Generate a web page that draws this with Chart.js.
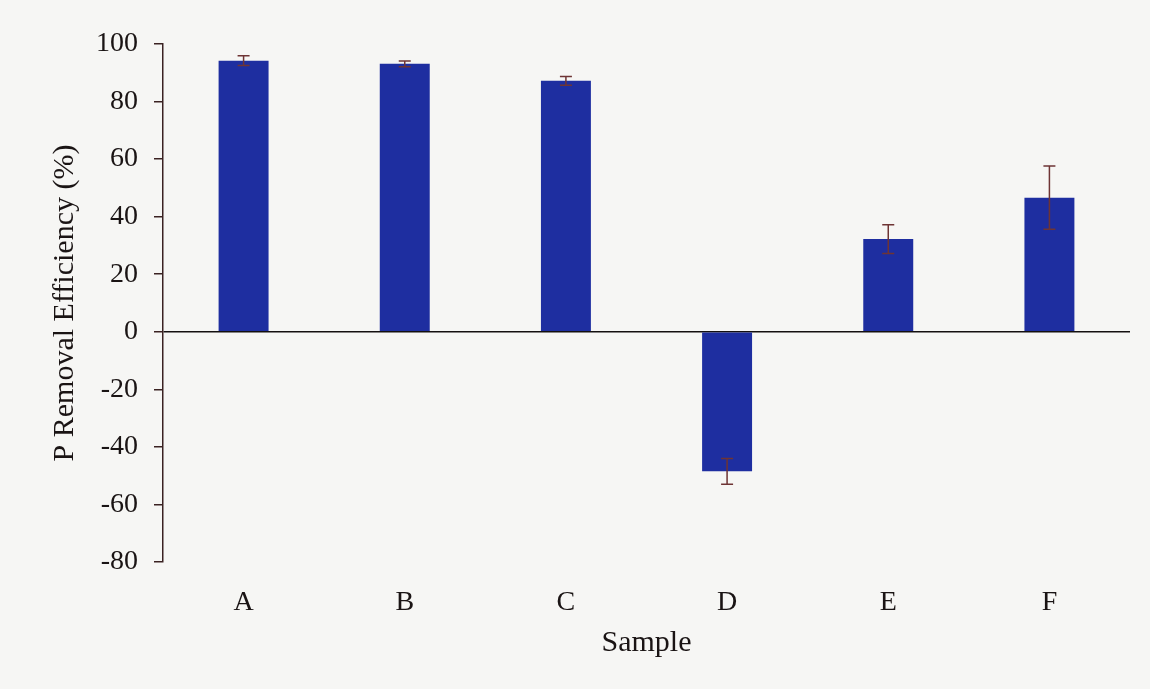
<!DOCTYPE html>
<html>
<head>
<meta charset="utf-8">
<script src="https://cdn.jsdelivr.net/npm/chart.js@4"></script>
<style>
  html, body { margin: 0; padding: 0; background: #f6f6f4; }
  #wrap { width: 1150px; height: 689px; }
</style>
</head>
<body>
<div id="wrap"><canvas id="chart" width="1150" height="689"></canvas></div>
<script>
// dados
const samples = ['A', 'B', 'C', 'D', 'E', 'F'];
const efficiency = [94.2, 93.1, 87.2, -48.5, 32.2, 46.6];
const errors = [1.7, 1.0, 1.5, 4.5, 5.0, 11.0];
const yTicks = [100, 80, 60, 40, 20, 0, -20, -40, -60, -80];

const serif = 'Liberation Serif';

// barras de erro desenhadas com as escalas do gráfico
const errorBars = {
  id: 'errorBars',
  afterDatasetsDraw(chart) {
    const { ctx, scales } = chart;
    const meta = chart.getDatasetMeta(0);
    ctx.save();
    ctx.strokeStyle = '#6e3434';
    ctx.lineWidth = 1.5;
    meta.data.forEach((bar, i) => {
      const top = scales.y.getPixelForValue(efficiency[i] + errors[i]);
      const bot = scales.y.getPixelForValue(efficiency[i] - errors[i]);
      const x = bar.x;
      ctx.beginPath();
      ctx.moveTo(x, top); ctx.lineTo(x, bot);
      ctx.moveTo(x - 6, top); ctx.lineTo(x + 6, top);
      ctx.moveTo(x - 6, bot); ctx.lineTo(x + 6, bot);
      ctx.stroke();
    });
    ctx.restore();
  }
};

new Chart(document.getElementById('chart'), {
  type: 'bar',
  data: {
    labels: samples,
    datasets: [{
      data: efficiency,
      backgroundColor: '#1e2ea0',
      borderWidth: 0,
      barPercentage: 0.31,
      categoryPercentage: 1
    }]
  },
  options: {
    responsive: false,
    animation: false,
    layout: { padding: { left: 0, top: 44, right: 20, bottom: 0 } },
    plugins: { legend: { display: false }, tooltip: { enabled: false } },
    scales: {
      x: {
        grid: { display: false },
        border: { display: false },
        ticks: { color: '#1a1414', padding: 16, font: { family: serif, size: 28 } },
        title: {
          display: true,
          text: 'Sample',
          color: '#1a1414',
          font: { family: serif, size: 30 },
          padding: { top: 4, bottom: 28 }
        },
        afterFit: (s) => { s.height = 127; }
      },
      y: {
        min: -80,
        max: 100,
        afterBuildTicks: (s) => { s.ticks = yTicks.map(v => ({ value: v })); },
        grid: {
          color: (c) => c.tick && c.tick.value === 0 ? '#141010' : 'transparent',
          lineWidth: 1.5,
          tickColor: '#3a2222',
          tickLength: 9,
          drawTicks: true
        },
        border: { display: true, color: '#3a2222', width: 1.5 },
        ticks: { color: '#1a1414', padding: 16, font: { family: serif, size: 28 } },
        title: {
          display: true,
          text: 'P Removal Efficiency (%)',
          color: '#1a1414',
          font: { family: serif, size: 30 },
          padding: { top: 47, bottom: 0 }
        },
        afterFit: (s) => { s.width = 163; }
      }
    }
  },
  plugins: [errorBars]
});
</script>
</body>
</html>
